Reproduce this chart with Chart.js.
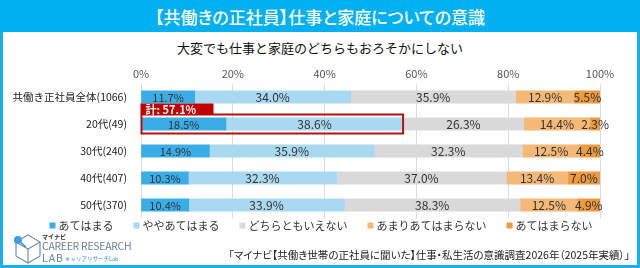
<!DOCTYPE html>
<html><head><meta charset="utf-8">
<script src="https://cdn.jsdelivr.net/npm/chart.js@4/dist/chart.umd.min.js"></script>
<style>
html,body{margin:0;padding:0;background:#fff;}
body{width:640px;height:268px;position:relative;overflow:hidden;font-family:"Noto Sans CJK JP","Noto Sans",sans-serif;}
#frame{position:absolute;left:0;top:0;width:634px;height:262px;border:3px solid #1cb0ea;}
#titlebar{position:absolute;left:0;top:0;width:640px;height:32px;background:#00b0f0;color:#fff;font-size:17px;line-height:34px;text-align:center;font-weight:500;font-feature-settings:"palt";}
#subtitle{position:absolute;left:0;top:38px;width:640px;text-align:center;font-size:13px;color:#111;line-height:20px;}
#wrap{position:absolute;left:0;top:60px;width:640px;height:184px;}
#footer{position:absolute;right:10px;top:246px;font-size:10.5px;color:#222;line-height:18px;white-space:nowrap;font-feature-settings:"palt";}
#logo{position:absolute;left:12px;top:232px;width:120px;height:32px;}
#logo div{white-space:nowrap;}
.lg1{position:absolute;left:30px;top:1px;font-size:6px;font-weight:bold;color:#333;line-height:7px;}
.lg2{position:absolute;left:30px;top:8px;font-size:10.5px;color:#6d7f95;letter-spacing:-0.3px;line-height:12px;}
.lg3{position:absolute;left:30px;top:20px;font-size:10.5px;color:#6d7f95;line-height:12px;letter-spacing:1px;}
.lg4{position:absolute;left:53px;top:23px;font-size:5.5px;color:#3a8fd0;line-height:8px;}
</style></head>
<body>
<div id="frame"></div>
<div id="titlebar">【共働きの正社員】仕事と家庭についての意識</div>
<div id="subtitle">大変でも仕事と家庭のどちらもおろそかにしない</div>
<div id="wrap"><canvas id="c" width="640" height="184"></canvas></div>
<div id="logo">
<svg width="30" height="32" style="position:absolute;left:0;top:0">
<polygon points="16,3 28,10 28,24 16,31 4,24 4,10" fill="none" stroke="#7a8ea8" stroke-width="1.2"/>
<polyline points="4,10 16,17 28,10" fill="none" stroke="#7a8ea8" stroke-width="1.2"/>
<line x1="16" y1="17" x2="16" y2="31" stroke="#7a8ea8" stroke-width="1.2"/>
<line x1="6" y1="8" x2="14" y2="15" stroke="#3a8fd0" stroke-width="1.5"/>
<circle cx="6" cy="8" r="4" fill="#3aa0e0"/>
</svg>
<div class="lg1">マイナビ</div>
<div class="lg2">CAREER RESEARCH</div>
<div class="lg3">LAB</div>
<div class="lg4">キャリアリサーチLab</div>
</div>
<div id="footer">「マイナビ【共働き世帯の正社員に聞いた】仕事・私生活の意識調査2026年（2025年実績）」</div>
<script>
const categories = ["共働き正社員全体(1066)", "20代(49)", "30代(240)", "40代(407)", "50代(370)"];
const seriesNames = ["あてはまる", "ややあてはまる", "どちらともいえない", "あまりあてはまらない", "あてはまらない"];
const atehamaru = [11.7, 18.5, 14.9, 10.3, 10.4];
const yaya = [34.0, 38.6, 35.9, 32.3, 33.9];
const dochira = [35.9, 26.3, 32.3, 37.0, 38.3];
const amari = [12.9, 14.4, 12.5, 13.4, 12.5];
const atehamaranai = [5.5, 2.3, 4.4, 7.0, 4.9];
const xTicks = [0, 20, 40, 60, 80, 100];
const highlightRow = 1;
const highlightLabel = "計: 57.1%";

const colors = ["#3aade6", "#a9d9f0", "#d9d9d9", "#f4b877", "#ee9a3e"];
const allSeries = [atehamaru, yaya, dochira, amari, atehamaranai];
const FONT = '"Noto Sans CJK JP", sans-serif';

const labelPlugin = {
  id: 'segLabels',
  afterDatasetsDraw(chart) {
    const ctx = chart.ctx;
    ctx.save();
    ctx.textAlign = 'center';
    ctx.textBaseline = 'middle';
    chart.data.datasets.forEach((ds, di) => {
      const meta = chart.getDatasetMeta(di);
      meta.data.forEach((bar, i) => {
        const v = ds.data[i];
        const cx = (bar.x + bar.base) / 2;
        ctx.font = (di === 0 ? '11px ' : '12px ') + FONT;
        ctx.fillStyle = '#333';
        ctx.fillText(v.toFixed(1) + '%', cx, bar.y + 0.5);
      });
    });
    const m0 = chart.getDatasetMeta(0).data[highlightRow];
    const m1 = chart.getDatasetMeta(1).data[highlightRow];
    const x0 = m0.base, x1 = m1.x;
    const top = m0.y - 9.5, bot = m0.y + 9.5;
    ctx.strokeStyle = '#b80f0f';
    ctx.lineWidth = 2;
    ctx.strokeRect(x0, top, x1 - x0, bot - top);
    ctx.font = 'bold 11px ' + FONT;
    const tw = ctx.measureText(highlightLabel).width;
    ctx.fillStyle = '#c00000';
    ctx.fillRect(x0 - 1, top - 11, Math.max(73, tw + 10), 11);
    ctx.fillStyle = '#fff';
    ctx.textAlign = 'left';
    ctx.fillText(highlightLabel, x0 + 4, top - 5);
    ctx.restore();
  },
  afterDraw(chart) {
    const ctx = chart.ctx;
    ctx.save();
    ctx.font = '11px ' + FONT;
    ctx.textBaseline = 'middle';
    const box = 6, gapBox = 3, gap = 20;
    const widths = chart.data.datasets.map(ds => box + gapBox + ctx.measureText(ds.label).width);
    const total = widths.reduce((a, b) => a + b, 0) + gap * (widths.length - 1);
    let x = 321 - total / 2;
    const y = chart.chartArea.bottom + 7;
    chart.data.datasets.forEach((ds, i) => {
      ctx.fillStyle = ds.backgroundColor;
      ctx.fillRect(x, y - 3, box, box);
      ctx.fillStyle = '#333';
      ctx.textAlign = 'left';
      ctx.fillText(ds.label, x + box + gapBox, y + 0.5);
      x += widths[i] + gap;
    });
    ctx.restore();
  }
};

new Chart(document.getElementById('c'), {
  type: 'bar',
  data: {
    labels: categories,
    datasets: allSeries.map((d, i) => ({
      label: seriesNames[i], data: d, backgroundColor: colors[i], borderWidth: 0, barThickness: 12.5
    }))
  },
  options: {
    indexAxis: 'y',
    responsive: false,
    animation: false,
    layout: { padding: { left: 0, right: 40, top: 0, bottom: 25.5 } },
    scales: {
      x: {
        position: 'top', stacked: true, min: 0, max: 100,
        afterBuildTicks(s) { s.ticks = xTicks.map(v => ({ value: v })); },
        afterFit(s) { s.height = 23.5; },
        grid: { color: '#dcdcdc', drawTicks: false, lineWidth: 1 },
        border: { display: false },
        ticks: { color: '#555', font: { size: 11, family: FONT }, padding: 3, callback: v => v + '%' }
      },
      y: {
        stacked: true,
        afterFit(s) { s.width = 141; },
        grid: { display: false },
        border: { display: false },
        ticks: { autoSkip: false, color: '#222', font: { size: 10.5, family: FONT }, padding: 6 }
      }
    },
    plugins: {
      legend: { display: false },
      tooltip: { enabled: false }
    }
  },
  plugins: [labelPlugin]
});
</script>
</body></html>
